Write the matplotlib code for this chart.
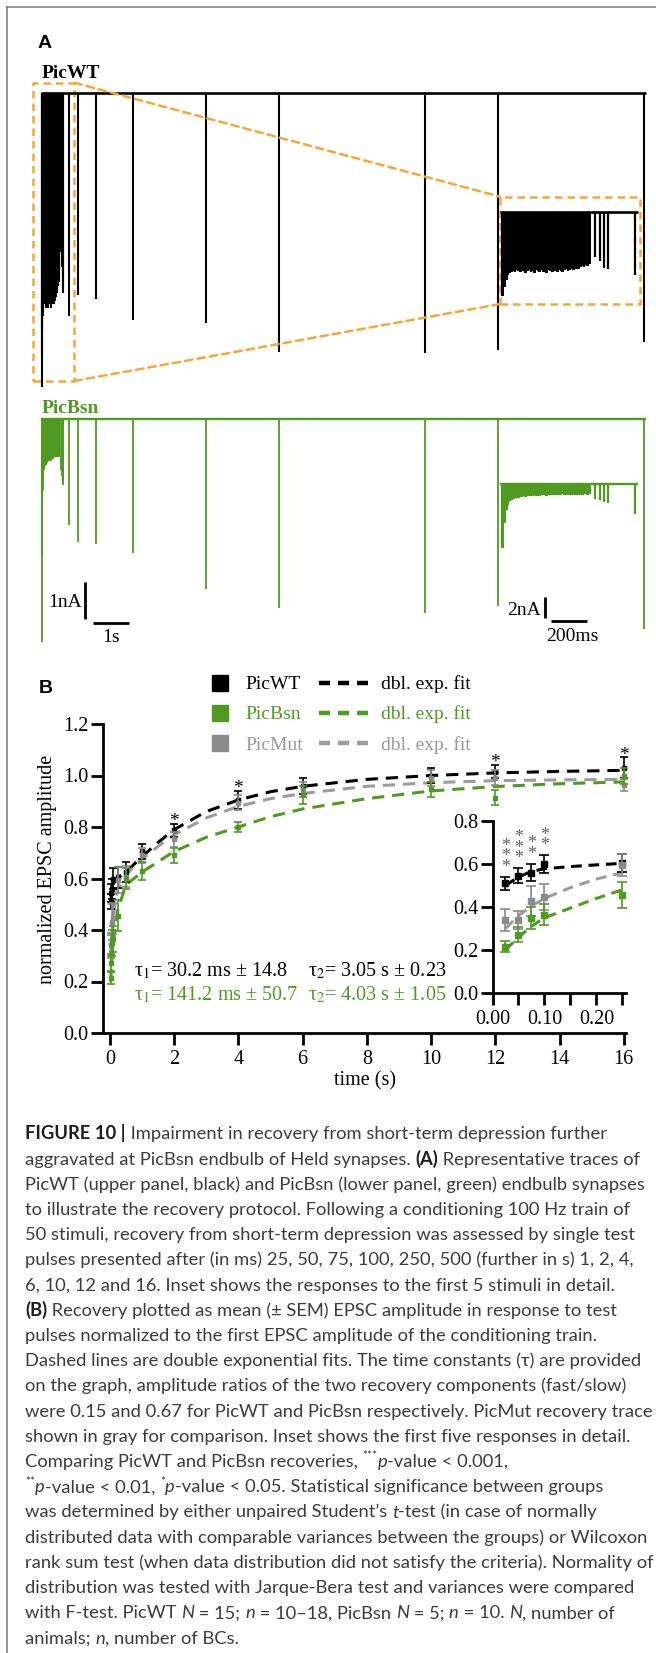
import numpy as np
import matplotlib
matplotlib.use('Agg')
import matplotlib.pyplot as plt
from matplotlib.patches import Rectangle, ConnectionPatch
from matplotlib import font_manager
from matplotlib.ticker import FormatStrFormatter

# ---------------- data ----------------
# panel A: representative traces (nA), 100 Hz train of 50 stimuli then test pulses
test_times = [0.025, 0.05, 0.075, 0.1, 0.25, 0.5, 1, 2, 4, 6, 10, 12, 16]
wt_train_nA = [7.8, 7.0, 6.3, 5.9, 5.7, 5.6, 5.5, 5.6, 5.4, 5.5,
               5.6, 5.4, 5.5, 5.7, 5.5, 5.4, 5.6, 5.5, 5.7, 5.4,
               5.5, 5.6, 5.4, 5.6, 5.5, 5.7, 5.4, 5.5, 5.6, 5.4,
               5.5, 5.6, 5.4, 5.5, 5.6, 5.4, 5.3, 5.5, 5.4, 5.3,
               5.4, 5.3, 5.2, 5.3, 5.1, 5.0, 5.1, 4.9, 5.0, 4.8]
bsn_train_nA = [5.9, 3.6, 2.4, 1.9, 1.6, 1.45, 1.35, 1.3, 1.3, 1.25,
                1.2, 1.2, 1.15, 1.2, 1.1, 1.15, 1.1, 1.1, 1.05, 1.1,
                1.05, 1.1, 1.05, 1.0, 1.05, 1.1, 1.0, 1.05, 1.0, 1.05,
                1.0, 1.0, 1.05, 1.0, 0.95, 1.0, 1.0, 0.95, 1.0, 1.0,
                0.95, 1.0, 0.95, 1.0, 0.95, 1.0, 0.95, 0.95, 1.0, 0.95]
wt_test_nA = [4.2, 4.6, 5.2, 5.3, 5.9, 5.35, 5.45, 6.0, 6.1, 6.85, 6.9, 6.8, 6.6]
bsn_test_nA = [1.35, 1.5, 1.65, 1.75, 2.8, 3.25, 3.3, 3.55, 4.5, 5.0, 5.15, 4.95, 5.55]

# panel B: normalized EPSC amplitude, mean and SEM
wt_mean = [0.51, 0.545, 0.56, 0.60, 0.605, 0.625, 0.705, 0.787, 0.905, 0.96, 1.0, 1.015, 1.03]
wt_sem = [0.03, 0.035, 0.04, 0.04, 0.04, 0.04, 0.03, 0.025, 0.035, 0.03, 0.03, 0.025, 0.04]
mut_mean = [0.34, 0.34, 0.43, 0.445, 0.595, 0.607, 0.69, 0.752, 0.895, 0.945, 0.99, 0.992, 0.963]
mut_sem = [0.05, 0.04, 0.07, 0.06, 0.05, 0.04, 0.03, 0.03, 0.03, 0.03, 0.03, 0.03, 0.025]
bsn_mean = [0.215, 0.27, 0.35, 0.365, 0.455, 0.60, 0.63, 0.69, 0.80, 0.925, 0.946, 0.914, 0.998]
bsn_sem = [0.025, 0.035, 0.05, 0.05, 0.06, 0.04, 0.035, 0.03, 0.02, 0.035, 0.03, 0.03, 0.03]

# double exponential fit curves
fit_t = [0.025, 0.05, 0.075, 0.1, 0.15, 0.2, 0.25, 0.5, 1, 1.5, 2, 3, 4, 5, 6, 8, 10, 12, 14, 16]
wt_fit = [0.50, 0.54, 0.565, 0.578, 0.588, 0.596, 0.603, 0.625, 0.685, 0.74, 0.79, 0.86,
          0.905, 0.937, 0.958, 0.985, 1.0, 1.01, 1.016, 1.02]
mut_fit = [0.30, 0.36, 0.405, 0.44, 0.49, 0.53, 0.56, 0.615, 0.675, 0.725, 0.77, 0.835,
           0.88, 0.91, 0.93, 0.958, 0.972, 0.98, 0.983, 0.985]
bsn_fit = [0.20, 0.26, 0.31, 0.35, 0.395, 0.44, 0.48, 0.575, 0.625, 0.665, 0.705, 0.76,
           0.80, 0.84, 0.87, 0.91, 0.94, 0.957, 0.968, 0.975]

sig_main_t = [2, 4, 12, 16]
sig_main_lab = ['*', '*', '*', '*']
sig_inset_t = [0.025, 0.05, 0.075, 0.1]
sig_inset_lab = ['*\n*\n*', '*\n*\n*', '*\n*', '*\n*']

tau_wt = ['τ$_1$= 30.2 ms ± 14.8', 'τ$_2$= 3.05 s ± 0.23']
tau_bsn = ['τ$_1$= 141.2 ms ± 50.7', 'τ$_2$= 4.03 s ± 1.05']

caption = [
    [('FIGURE 10 |', 'b'), (' Impairment in recovery from short-term depression further', '')],
    [('aggravated at PicBsn endbulb of Held synapses. ', ''), ('(A)', 'b'), (' Representative traces of', '')],
    [('PicWT (upper panel, black) and PicBsn (lower panel, green) endbulb synapses', '')],
    [('to illustrate the recovery protocol. Following a conditioning 100 Hz train of', '')],
    [('50 stimuli, recovery from short-term depression was assessed by single test', '')],
    [('pulses presented after (in ms) 25, 50, 75, 100, 250, 500 (further in s) 1, 2, 4,', '')],
    [('6, 10, 12 and 16. Inset shows the responses to the first 5 stimuli in detail.', '')],
    [('(B)', 'b'), (' Recovery plotted as mean (± SEM) EPSC amplitude in response to test', '')],
    [('pulses normalized to the first EPSC amplitude of the conditioning train.', '')],
    [('Dashed lines are double exponential fits. The time constants (τ) are provided', '')],
    [('on the graph, amplitude ratios of the two recovery components (fast/slow)', '')],
    [('were 0.15 and 0.67 for PicWT and PicBsn respectively. PicMut recovery trace', '')],
    [('shown in gray for comparison. Inset shows the first five responses in detail.', '')],
    [('Comparing PicWT and PicBsn recoveries, ', ''), ('***', 's'), ('p', 'i'), ('-value < 0.001,', '')],
    [('**', 's'), ('p', 'i'), ('-value < 0.01, ', ''), ('*', 's'), ('p', 'i'),
     ('-value < 0.05. Statistical significance between groups', '')],
    [('was determined by either unpaired Student’s ', ''), ('t', 'i'), ('-test (in case of normally', '')],
    [('distributed data with comparable variances between the groups) or Wilcoxon', '')],
    [('rank sum test (when data distribution did not satisfy the criteria). Normality of', '')],
    [('distribution was tested with Jarque-Bera test and variances were compared', '')],
    [('with F-test. PicWT ', ''), ('N', 'i'), (' = 15; ', ''), ('n', 'i'), (' = 10–18, PicBsn ', ''),
     ('N', 'i'), (' = 5; ', ''), ('n', 'i'), (' = 10. ', ''), ('N', 'i'), (', number of', '')],
    [('animals; ', ''), ('n', 'i'), (', number of BCs.', '')],
]

# ---------------- style ----------------
GREEN = '#4f9b22'
GRAY = '#8a8a8a'
GRAY_FIT = '#9c9c9c'
ORANGE = '#f6a837'
plt.rcParams['font.family'] = ['Liberation Serif', 'DejaVu Serif']
plt.rcParams['mathtext.fontset'] = 'stix'

W, H = 656, 1653
fig = plt.figure(figsize=(W / 100, H / 100), dpi=100)


def axes_px(left, top, right, bottom):
    return fig.add_axes([left / W, 1 - bottom / H, (right - left) / W, (bottom - top) / H])


def trace_axes(left, top, right, bottom, x0, sx, y0, sy):
    ax = axes_px(left, top, right, bottom)
    ax.set_xlim((left - x0) / sx, (right - x0) / sx)
    ax.set_ylim((y0 - bottom) / sy, (y0 - top) / sy)
    ax.axis('off')
    return ax


train_t = np.arange(len(wt_train_nA)) * 0.01 - 0.5


def draw_trace(ax, train, test, color, t_end, lw_spike, lw_base):
    tt = np.array(test_times)
    keep = tt <= t_end
    amps = -np.array(train)
    ax.hlines(0, -0.51, t_end + 0.02, color=color, lw=lw_base, clip_on=False)
    # the train fuses into a solid block: step outline plus the individual spikes
    ax.stairs(amps, np.append(train_t, 0.0), baseline=0, fill=True, color=color, lw=0)
    ax.vlines(train_t, 0, amps, color=color, lw=lw_spike, clip_on=False)
    ax.vlines(tt[keep], 0, -np.array(test)[keep], color=color, lw=lw_spike, clip_on=False)


# ---------------- panel A ----------------
ax_wt = trace_axes(30, 75, 650, 390, 59.8, 36.53, 93.3, 37.7)
ax_wt_in = trace_axes(500, 196.7, 640, 304, 590.7, 177, 211.7, 10.8)
ax_bsn = trace_axes(30, 400, 650, 660, 59.8, 36.53, 419.3, 37.7)
ax_bsn_in = trace_axes(500, 470, 640, 560, 590.7, 177, 484, 10.8)

draw_trace(ax_wt, wt_train_nA, wt_test_nA, 'black', 16.03, 1.5, 1.9)
draw_trace(ax_wt_in, wt_train_nA, wt_test_nA, 'black', 0.25, 1.6, 1.9)
draw_trace(ax_bsn, bsn_train_nA, bsn_test_nA, GREEN, 16.03, 1.3, 1.7)
draw_trace(ax_bsn_in, bsn_train_nA, bsn_test_nA, GREEN, 0.25, 1.6, 1.7)

dash_o = (0, (3, 2))
ax_wt.add_patch(Rectangle((-0.72, -7.63), 1.12, 7.91, fill=False, ec=ORANGE, lw=1.8,
                          ls=dash_o, clip_on=False))
ax_wt_in.add_patch(Rectangle((0, 0), 1, 1, transform=ax_wt_in.transAxes, fill=False,
                             ec=ORANGE, lw=1.8, ls=dash_o, clip_on=False))
for ya, yb in [(0.281, 1), (-7.63, 0)]:
    fig.add_artist(ConnectionPatch(xyA=(0.40, ya), coordsA=ax_wt.transData,
                                   xyB=(0, yb), coordsB=ax_wt_in.transAxes,
                                   color=ORANGE, lw=1.8, ls=dash_o))

# scale bars
ax_bsn.plot([0.69, 0.69], [-5.31, -4.31], color='black', lw=2, clip_on=False, solid_capstyle='butt')
ax_bsn.plot([0.906, 1.906], [-5.41, -5.41], color='black', lw=2, clip_on=False, solid_capstyle='butt')
ax_bsn_in.plot([-0.259, -0.259], [-12.43, -10.43], color='black', lw=2, clip_on=False, solid_capstyle='butt')
ax_bsn_in.plot([-0.2215, -0.0215], [-12.69, -12.69], color='black', lw=2, clip_on=False, solid_capstyle='butt')

# ---------------- panel B ----------------
axb = axes_px(102.5, 724, 626, 1033)
axb.set_xlim(-0.23, 16.07)
axb.set_ylim(0, 1.2)
axi = axes_px(492.5, 821, 626, 993)
axi.set_xlim(0, 0.257)
axi.set_ylim(0, 0.8)

for ax in (axb, axi):
    ax.patch.set_alpha(0)
    for s in ('top', 'right'):
        ax.spines[s].set_visible(False)
    for s in ('left', 'bottom'):
        ax.spines[s].set_linewidth(2.0)
    ax.tick_params(direction='out', length=8.5, width=2, labelsize=14.5, colors='black')
    ax.tick_params(axis='y', pad=1.5)
    ax.tick_params(axis='x', pad=3.5)

axb.set_xticks(range(0, 17, 2))
axb.set_yticks(np.arange(0, 1.21, 0.2))
axb.yaxis.set_major_formatter(FormatStrFormatter('%.1f'))
axi.set_xticks([0, 0.05, 0.1, 0.15, 0.2, 0.25])
axi.set_xticklabels(['0.00', '', '0.10', '', '0.20', ''])
axi.set_yticks([0, 0.2, 0.4, 0.6, 0.8])
axi.yaxis.set_major_formatter(FormatStrFormatter('%.1f'))

series = [(wt_mean, wt_sem, wt_fit, 'black', 'black'),
          (mut_mean, mut_sem, mut_fit, GRAY, GRAY_FIT),
          (bsn_mean, bsn_sem, bsn_fit, GREEN, GREEN)]
for ax, ms, cap, lw_fit, dash in [(axb, 3.5, 2.8, 2.2, (0, (4, 2.6))), (axi, 5, 3.3, 2.2, (0, (3.5, 2.2)))]:
    for k, (m, e, f, c, cf) in enumerate(series):
        ax.plot(fit_t, f, color=cf, lw=lw_fit, ls=dash, zorder=2)
    for k, (m, e, f, c, cf) in enumerate(series):
        ax.errorbar(test_times, m, yerr=e, fmt='s', ms=ms, color=c, ecolor=c, mec=c,
                    elinewidth=1.2, capsize=cap, capthick=1.2, zorder=3 + k, clip_on=False)

for t, lab in zip(sig_main_t, sig_main_lab):
    i = test_times.index(t)
    axb.annotate(lab, (t, wt_mean[i] + wt_sem[i]), xytext=(0, -1.5), textcoords='offset points',
                 ha='center', va='baseline', fontsize=14, color='black')
for t, lab in zip(sig_inset_t, sig_inset_lab):
    i = test_times.index(t)
    axi.annotate(lab, (t, wt_mean[i] + wt_sem[i]), xytext=(0, 3.6),
                 textcoords='offset points', ha='center', va='baseline',
                 fontsize=13, color='#626262', linespacing=0.5, annotation_clip=False)

# ---------------- overlay (pixel coordinates) ----------------
ov = fig.add_axes([0, 0, 1, 1])
ov.set_xlim(0, W)
ov.set_ylim(H, 0)
ov.axis('off')

ov.plot([7, 7], [7, H], color='#7a7a7a', lw=1.1)
ov.plot([7, W], [7, 7], color='#7a7a7a', lw=1.1)

ov.text(38, 48, 'A', family='Liberation Sans', weight='bold', fontsize=14, va='baseline')
ov.text(38.5, 693, 'B', family='Liberation Sans', weight='bold', fontsize=14, va='baseline')
ov.text(42, 78, 'PicWT', weight='bold', fontsize=14, va='baseline', color='black')
ov.text(42, 413.3, 'PicBsn', weight='bold', fontsize=14, va='baseline', color=GREEN)

ov.text(82, 607, '1nA', ha='right', va='baseline', fontsize=14)
ov.text(111, 642, '1s', ha='center', va='baseline', fontsize=14)
ov.text(541, 615, '2nA', ha='right', va='baseline', fontsize=14)
ov.text(572, 641, '200ms', ha='center', va='baseline', fontsize=14)

# legend
legend_rows = [('PicWT', 'black', 'black', 'black'),
               ('PicBsn', GREEN, GREEN, GREEN),
               ('PicMut', GRAY, '#9a9a9a', GRAY_FIT)]
for r, (name, mc, tc, fc) in enumerate(legend_rows):
    yb = 689 + 30.3 * r
    yc = yb - 6.5
    ov.plot(219.5, yc, 's', ms=11, color=mc)
    ov.text(245, yb, name, fontsize=14, color=tc, va='baseline')
    ov.plot([319, 368], [yc, yc], color=fc, lw=3.2, ls=(0, (2.48, 1.8)))
    ov.text(381, yb, 'dbl. exp. fit', fontsize=14, color=tc, va='baseline')

ov.text(134, 976.7, tau_wt[0], fontsize=14.5, va='baseline', color='black')
ov.text(307.5, 976.7, tau_wt[1], fontsize=14.5, va='baseline', color='black')
ov.text(134, 1000, tau_bsn[0], fontsize=14.5, va='baseline', color=GREEN)
ov.text(307.5, 1000, tau_bsn[1], fontsize=14.5, va='baseline', color=GREEN)

ov.text(48, 869, 'normalized EPSC amplitude', rotation=90, ha='center', va='center', fontsize=14.5)
ov.text(365, 1081, 'time (s)', ha='center', va='center', fontsize=14.5)

# caption
names = {f.name for f in font_manager.fontManager.ttflist}
renderer = fig.canvas.get_renderer()


def seg_props(style, size, family):
    kw = dict(family=family, fontsize=size, color='#3c3c3c')
    if style == 'b':
        kw.update(weight='bold', color='#1e1e1e')
    elif style == 'i':
        kw.update(style='italic')
    elif style == 's':
        kw.update(fontsize=size * 0.65)
    return kw


def text_width(s, **kw):
    t = ov.text(0, 0, '|' + s + '|', **kw)
    w1 = t.get_window_extent(renderer).width
    t.set_text('||')
    w0 = t.get_window_extent(renderer).width
    t.remove()
    return w1 - w0


# pick the narrowest sans font available, sized so that line 3 spans the column
cap_font, cap_size = None, 0
for fam in ['Liberation Sans Narrow', 'Roboto', 'Lato', 'Liberation Sans']:
    if fam not in names:
        continue
    ref_w = sum(text_width(s, **seg_props(st, 10, fam)) for s, st in caption[2])
    size = 10 * 622.0 / ref_w
    if size > cap_size:
        cap_font, cap_size = fam, size

for i, line in enumerate(caption):
    x = 25
    yb = 1139.5 + 25.2 * i
    for s, st in line:
        kw = seg_props(st, cap_size, cap_font)
        y = yb - (cap_size * 0.42 * 100 / 72 if st == 's' else 0)
        ov.text(x, y, s, va='baseline', ha='left', **kw)
        x += text_width(s, **kw)

fig.savefig('out.png', dpi=100)
